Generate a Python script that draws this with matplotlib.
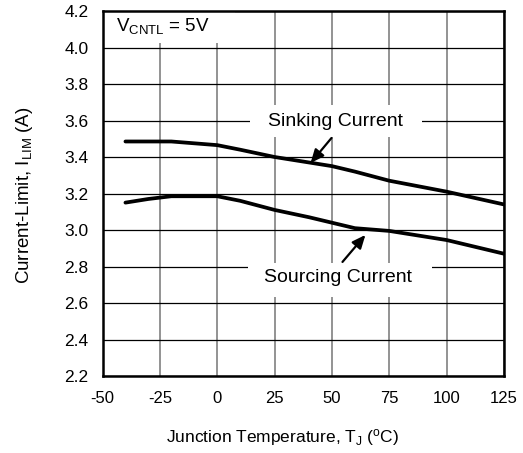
import matplotlib
matplotlib.use("Agg")
import matplotlib.pyplot as plt
from matplotlib.patches import Rectangle

plt.rcParams['font.family'] = ['Liberation Sans', 'DejaVu Sans']
plt.rcParams['mathtext.fontset'] = 'custom'
plt.rcParams['mathtext.rm'] = 'Liberation Sans'
plt.rcParams['mathtext.it'] = 'Liberation Sans:italic'

# Junction temperature (°C) and current limit (A)
temp_sink = [-40, -30, -20, -10, 0, 10, 25, 40, 50, 60, 75, 100, 125]
i_sink = [3.485, 3.485, 3.485, 3.475, 3.465, 3.44, 3.40, 3.37, 3.35, 3.32, 3.27, 3.21, 3.14]

temp_source = [-40, -30, -20, -10, 0, 10, 25, 40, 50, 60, 75, 100, 125]
i_source = [3.15, 3.17, 3.185, 3.185, 3.185, 3.16, 3.11, 3.07, 3.04, 3.01, 2.995, 2.945, 2.87]

x_ticks = [-50, -25, 0, 25, 50, 75, 100, 125]
y_ticks = [2.2, 2.4, 2.6, 2.8, 3.0, 3.2, 3.4, 3.6, 3.8, 4.0, 4.2]

fig = plt.figure(figsize=(5.23, 4.53), dpi=100)
ax = fig.add_axes([102.5 / 523, 77 / 453, (504 - 102.5) / 523, (376 - 11) / 453])

ax.set_xlim(-50, 125)
ax.set_ylim(2.2, 4.2)
ax.set_xticks(x_ticks)
ax.set_yticks(y_ticks)
ax.set_xticklabels([str(t) for t in x_ticks], fontsize=12)
ax.set_yticklabels([f"{t:.1f}" for t in y_ticks], fontsize=12.5)
ax.tick_params(axis='both', length=0)
ax.tick_params(axis='x', pad=11)
ax.tick_params(axis='y', pad=10)

# grid: grey verticals, black horizontals
ax.xaxis.grid(True, color='#808080', linewidth=1.2, zorder=0)
ax.yaxis.grid(True, color='black', linewidth=0.9, zorder=0)
ax.set_axisbelow(True)

for s in ax.spines.values():
    s.set_linewidth(1.8)
    s.set_color('black')
    s.set_zorder(5)

ax.plot(temp_sink, i_sink, color='black', linewidth=2.7, solid_capstyle='round', zorder=4)
ax.plot(temp_source, i_source, color='black', linewidth=2.7, solid_capstyle='round', zorder=4)

# white panels behind the labels that break the grid
for (x0, y0, x1, y1) in [(-50, 4.025, 7.6, 4.2),
                         (14.1, 3.51, 89.3, 3.685),
                         (13.3, 2.633, 93.7, 2.819)]:
    ax.add_patch(Rectangle((x0, y0), x1 - x0, y1 - y0, facecolor='white',
                           edgecolor='none', zorder=2))

ax.text(-44, 4.118, r'V$_{\rm CNTL}$ = 5V', fontsize=13.5, ha='left', va='center', zorder=3)
ax.text(51.5, 3.597, 'Sinking Current', fontsize=14, ha='center', va='center', zorder=3)
ax.text(52.8, 2.737, 'Sourcing Current', fontsize=14, ha='center', va='center', zorder=3)

arrow = dict(arrowstyle='-|>,head_length=0.8,head_width=0.35', color='black',
             linewidth=1.6, shrinkA=0, shrinkB=0)
ax.annotate('', xy=(40.7, 3.367), xytext=(49.8, 3.504), arrowprops=arrow, zorder=6)
ax.annotate('', xy=(64.6, 2.973), xytext=(54.6, 2.825), arrowprops=arrow, zorder=6)

fig.text(25 / 523, 1 - 195 / 453, r'Current-Limit, I$_{\rm LIM}$ (A)', fontsize=13.5,
         rotation=90, ha='center', va='center')
fig.text(283 / 523, 1 - 438 / 453, r'Junction Temperature, T$_{\rm J}$ ($^{\rm o}$C)',
         fontsize=12.5, ha='center', va='center')

fig.savefig('out.png', dpi=100)
